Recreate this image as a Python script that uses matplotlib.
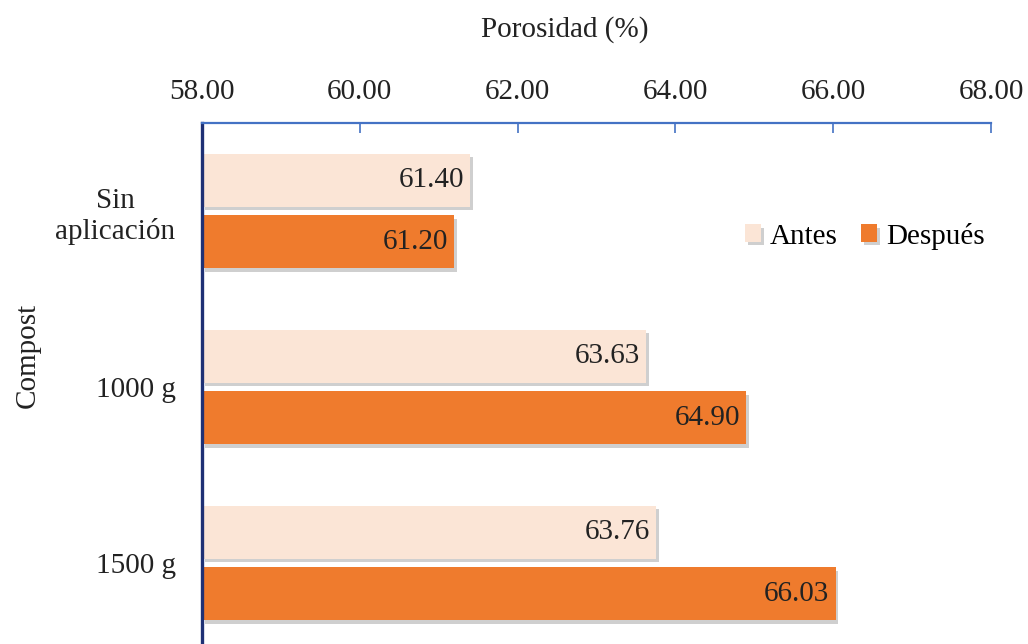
import matplotlib
matplotlib.use('Agg')
import matplotlib.pyplot as plt
import matplotlib.patheffects as pe
import numpy as np

plt.rcParams['font.family'] = ['Liberation Serif', 'DejaVu Serif']

# Data
categories = ['Sin\naplicación', '1000 g', '1500 g']
antes = [61.40, 63.63, 63.76]
despues = [61.20, 64.90, 66.03]
series_names = ['Antes', 'Después']
xticks = [58, 60, 62, 64, 66, 68]

c_antes = '#FBE5D6'
c_desp = '#EF7B2D'
blue = '#4472C4'
navy = '#1F3175'

fig = plt.figure(figsize=(10.28, 6.44), dpi=100)
ax = fig.add_axes([202 / 1028, -0.011, (991 - 202) / 1028, (651 - 123) / 644])

y = np.arange(len(categories))
h = 0.30
off = 0.175
shadow = [pe.SimplePatchShadow(offset=(2, -2.5), shadow_rgbFace='#a0a0a0', alpha=0.5), pe.Normal()]

ax.barh(y - off, np.array(antes) - 58, left=58, height=h, color=c_antes,
        label=series_names[0], path_effects=shadow)
ax.barh(y + off, np.array(despues) - 58, left=58, height=h, color=c_desp,
        label=series_names[1], path_effects=shadow)

# value labels inside the bar ends
for yy, v in zip(y - off, antes):
    ax.text(v - 0.08, yy, f'{v:.2f}', ha='right', va='center', fontsize=21, color='#222222')
for yy, v in zip(y + off, despues):
    ax.text(v - 0.08, yy, f'{v:.2f}', ha='right', va='center', fontsize=21, color='#222222')

ax.set_xlim(58, 68)
ax.set_ylim(2.5, -0.5)
ax.set_xticks(xticks)
ax.set_xticklabels([f'{t:.2f}' for t in xticks])
ax.xaxis.tick_top()
ax.tick_params(axis='x', direction='in', length=7, width=1.2, color=blue,
               labelsize=21, pad=13, labelcolor='#222222')
ax.set_yticks(y)
ax.set_yticklabels(categories, fontsize=21, color='#222222', multialignment='center')
ax.tick_params(axis='y', length=0, pad=19)

for s in ['right', 'bottom']:
    ax.spines[s].set_visible(False)
ax.spines['top'].set_color(blue)
ax.spines['top'].set_linewidth(1.6)
ax.spines['left'].set_color(navy)
ax.spines['left'].set_linewidth(2.4)

fig.text(565 / 1028, 1 - 30 / 644, 'Porosidad (%)', ha='center', va='center',
         fontsize=21, color='#222222')
fig.text(28 / 1028, 1 - 355 / 644, 'Compost', ha='center', va='center',
         rotation=90, fontsize=21, color='#222222')

ax.legend(loc='center', bbox_to_anchor=(865 / 1028, 1 - 236 / 644),
          bbox_transform=fig.transFigure, ncol=2, frameon=False, fontsize=21,
          handlelength=0.55, handleheight=0.55, handletextpad=0.3, columnspacing=0.8)

fig.savefig('out.png', dpi=100)
